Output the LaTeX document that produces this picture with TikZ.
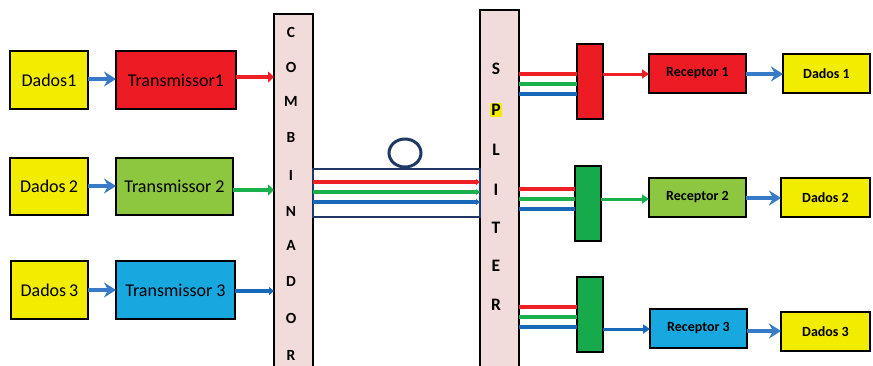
\documentclass[tikz,border=0pt]{standalone}
\usepackage{fontspec}
\setmainfont{Carlito}
\usetikzlibrary{arrows.meta,calc,shapes.geometric}
\definecolor{cyel}{RGB}{242,236,0}
\definecolor{cred}{RGB}{237,28,36}
\definecolor{clgreen}{RGB}{141,198,63}
\definecolor{cdgreen}{RGB}{22,170,75}
\definecolor{clblue}{RGB}{24,168,224}
\definecolor{cpink}{RGB}{242,220,219}
\definecolor{cfib}{RGB}{31,56,100}
\definecolor{lred}{RGB}{238,32,38}
\definecolor{lgreen}{RGB}{26,176,75}
\definecolor{lblue}{RGB}{24,104,186}
\definecolor{ablue}{RGB}{55,122,200}
\begin{document}
\begin{tikzpicture}[x=1pt,y=-1pt,
  box/.style={draw=black, line width=1.5pt, inner sep=0pt, outer sep=0pt, anchor=north west},
  tx/.style={box, font=\fontsize{18}{20}\selectfont},
  rx/.style={box, font=\bfseries\fontsize{14}{16}\selectfont},
  cletter/.style={font=\bfseries\fontsize{15.5}{17}\selectfont, inner sep=0.5pt},
  sletter/.style={font=\bfseries\fontsize{17.5}{19}\selectfont, inner sep=0.5pt},
  bigarrow/.style={ablue, line width=4pt, -{Stealth[length=12pt,width=15pt,inset=4pt]}},
  inarrow/.style={line width=4.5pt, -{Triangle[length=6pt,width=11pt]}},
  fibline/.style={line width=3.5pt, -{Triangle[length=4pt,width=6pt]}},
  splline/.style={line width=4pt},
  outarrow/.style={line width=3pt, -{Triangle[length=7pt,width=9pt]}}
]
\useasboundingbox (0,0) rectangle (873,365);
\clip (0,0) rectangle (873,365);

% data sources and transmitters
\node[tx, fill=cyel, minimum width=78pt, minimum height=58pt] (d1) at (10,51) {Dados1};
\node[tx, fill=cred, minimum width=120pt, minimum height=58pt] (t1) at (116,51) {Transmissor1};
\node[tx, fill=cyel, minimum width=78pt, minimum height=57pt] (d2) at (10,158) {Dados\,2};
\node[tx, fill=clgreen, minimum width=117pt, minimum height=57pt] (t2) at (116,158) {Transmissor 2};
\node[tx, fill=cyel, minimum width=77pt, minimum height=58pt] (d3) at (11,261) {Dados\,3};
\node[tx, fill=clblue, minimum width=119pt, minimum height=58pt] (t3) at (116,261) {Transmissor 3};

% combiner column
\node[box, fill=cpink, minimum width=39pt, minimum height=380pt] (comb) at (274,14) {};
\foreach \ch/\yy in {C/32,O/67,M/101,B/137,I/175,N/211,A/245,D/281,O/318,R/355}
  \node[cletter] (cb\yy) at (291,\yy) {\ch};

% splitter column
\node[box, fill=cpink, minimum width=39pt, minimum height=380pt] (spl) at (480,10) {};
\foreach \ch/\yy in {S/69,L/150,I/190,T/228,E/266,R/305}
  \node[sletter] (sp\yy) at (496,\yy) {\ch};
\node[sletter, fill=cyel, inner sep=1.5pt] (sp110) at (496,110) {P};

% fibre link
\node[box, draw=cfib, line width=1.4pt, minimum width=167pt, minimum height=48pt] (fib) at (313,169) {};
\node[draw=cfib, line width=3pt, ellipse, minimum width=32pt, minimum height=28pt, inner sep=0pt] (loop) at (405,153) {};

% demultiplexers, receivers, data sinks
\node[box, fill=cred, minimum width=26pt, minimum height=75pt] (dm1) at (577,44) {};
\node[box, fill=cdgreen, minimum width=26pt, minimum height=75pt] (dm2) at (575,166) {};
\node[box, fill=cdgreen, minimum width=26pt, minimum height=75pt] (dm3) at (577,277) {};
\node[rx, fill=cred, minimum width=97pt, minimum height=39pt] (r1) at (649,54) {Receptor 1};
\node[rx, fill=clgreen, minimum width=97pt, minimum height=39pt] (r2) at (649,178) {Receptor 2};
\node[rx, fill=clblue, minimum width=97pt, minimum height=39pt] (r3) at (650,309) {Receptor 3};
\node[rx, fill=cyel, minimum width=87pt, minimum height=39pt] (o1) at (783,54) {Dados 1};
\node[rx, fill=cyel, minimum width=89pt, minimum height=39pt] (o2) at (781,178) {Dados 2};
\node[rx, fill=cyel, minimum width=89pt, minimum height=39pt] (o3) at (781,312) {Dados 3};

% data into transmitters
\draw[bigarrow] (d1.east |- 0,79) -- (t1.west |- 0,79);
\draw[bigarrow] (d2.east |- 0,186) -- (t2.west |- 0,186);
\draw[bigarrow] (d3.east |- 0,290) -- (t3.west |- 0,290);

% transmitters into combiner
\draw[inarrow, lred] (t1.east |- 0,77) -- (comb.west |- 0,77);
\draw[inarrow, lgreen] (t2.east |- 0,190) -- (comb.west |- 0,190);
\draw[line width=3.5pt, lblue, -{Triangle[length=5pt,width=8pt]}] (t3.east |- 0,291) -- (comb.west |- 0,291);

% wavelengths along the fibre
\draw[fibline, lred] (fib.west |- 0,182) -- (fib.east |- 0,182);
\draw[fibline, lgreen] (fib.west |- 0,192) -- (fib.east |- 0,192);
\draw[fibline, lblue] (fib.west |- 0,202) -- (fib.east |- 0,202);

% splitter outputs into demultiplexers
\draw[splline, lred]   (spl.east |- 0,74) -- (dm1.west |- 0,74);
\draw[splline, lgreen] (spl.east |- 0,84) -- (dm1.west |- 0,84);
\draw[splline, lblue]  (spl.east |- 0,94) -- (dm1.west |- 0,94);
\draw[splline, lred]   (spl.east |- 0,189) -- (dm2.west |- 0,189);
\draw[splline, lgreen] (spl.east |- 0,199) -- (dm2.west |- 0,199);
\draw[splline, lblue]  (spl.east |- 0,209) -- (dm2.west |- 0,209);
\draw[splline, lred]   (spl.east |- 0,307) -- (dm3.west |- 0,307);
\draw[splline, lgreen] (spl.east |- 0,317) -- (dm3.west |- 0,317);
\draw[splline, lblue]  (spl.east |- 0,327) -- (dm3.west |- 0,327);

% selected wavelength into receivers
\draw[outarrow, lred]   (dm1.east |- 0,74) -- (r1.west |- 0,74);
\draw[outarrow, lgreen] (dm2.east |- 0,199) -- (r2.west |- 0,199);
\draw[outarrow, lblue]  (dm3.east |- 0,329) -- (r3.west |- 0,329);

% receivers to data sinks
\draw[bigarrow] (r1.east |- 0,74) -- (o1.west |- 0,74);
\draw[bigarrow] (r2.east |- 0,198) -- (o2.west |- 0,198);
\draw[bigarrow] (r3.east |- 0,331) -- (o3.west |- 0,331);
\end{tikzpicture}
\end{document}
